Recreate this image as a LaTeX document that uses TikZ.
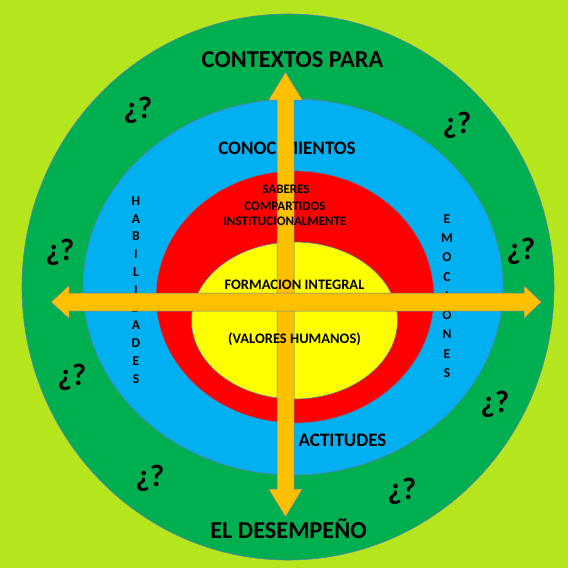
\documentclass[tikz,border=0pt]{standalone}
\usepackage{fontspec}
\setmainfont{Carlito}
\definecolor{bglime}{HTML}{B5E61D}
\definecolor{ringgreen}{HTML}{00B050}
\definecolor{ringblue}{HTML}{00B0F0}
\definecolor{ringred}{HTML}{FF0000}
\definecolor{ringyellow}{HTML}{FFFF00}
\definecolor{arroworange}{HTML}{FFC000}
\definecolor{edgeblue}{HTML}{5A7FA8}
\begin{document}
\begin{tikzpicture}[x=1pt,y=-1pt,
  ring/.style={draw=edgeblue,line width=0.6pt},
  arrowbody/.style={fill=arroworange,draw=edgeblue,line width=0.5pt,line join=miter},
  bigtxt/.style={font=\fontsize{24.3}{28}\selectfont\bfseries,inner sep=0pt,anchor=base},
  midtxt/.style={font=\fontsize{19}{22}\selectfont\bfseries,inner sep=0pt,anchor=base},
  smalltxt/.style={font=\fontsize{13}{15}\selectfont\bfseries,inner sep=0pt,anchor=base},
  coretxt/.style={font=\fontsize{14.5}{17}\selectfont\bfseries,inner sep=0pt,anchor=base},
  lettertxt/.style={font=\fontsize{13.5}{15}\selectfont\bfseries,inner sep=0pt},
  qtxt/.style={font=\fontsize{31}{34}\selectfont\bfseries,inner sep=0pt}]
\useasboundingbox (0,0) rectangle (568,568);
\fill[bglime] (0,0) rectangle (568,568);
% rings
\draw[ring,fill=ringgreen] (288,287) ellipse [x radius=266pt,y radius=273pt];
\draw[ring,fill=ringblue] (293,287) ellipse [x radius=210pt,y radius=188pt];
\draw[ring,fill=ringred] (295,297) ellipse [x radius=139pt,y radius=126pt];
\draw[ring,fill=ringyellow] (294.5,320.5) ellipse [x radius=103pt,y radius=78.5pt];
% texts under arrows
\node[midtxt] (conoc) at (287,154) {CONOCIMIENTOS};
\foreach \l [count=\i] in {H,A,B,I,L,I,D,A,D,E,S}
  \node[lettertxt] (hab\i) at (136,{201+17.8*(\i-1)}) {\l};
\foreach \l [count=\i] in {E,M,O,C,I,O,N,E,S}
  \node[lettertxt] (emo\i) at (447,{219+19.25*(\i-1)}) {\l};
% vertical arrow
\coordinate (vtop) at (285.5,72);
\coordinate (vbot) at (285.5,517);
\draw[arrowbody] (vtop) -- (302.5,100) -- (294,100) -- (294,489) -- (302.5,489)
  -- (vbot) -- (268.5,489) -- (277,489) -- (277,100) -- (268.5,100) -- cycle;
% horizontal arrow
\coordinate (hleft) at (51,302);
\coordinate (hright) at (541.5,302);
\draw[arrowbody] (hleft) -- (69,285.5) -- (69,293) -- (524,293) -- (524,285.5)
  -- (hright) -- (524,318.5) -- (524,311) -- (69,311) -- (69,318.5) -- cycle;
% texts over arrows
\node[bigtxt] (ctx) at (292.5,67) {CONTEXTOS PARA};
\node[bigtxt] (des) at (288.5,538) {EL DESEMPEÑO};
\node[smalltxt] (sab1) at (286,193.3) {SABERES};
\node[smalltxt] (sab2) at (285,210) {COMPARTIDOS};
\node[smalltxt] (sab3) at (285,225.7) {INSTITUCIONALMENTE};
\node[coretxt] (form) at (294.5,289.3) {FORMACION INTEGRAL};
\node[coretxt] (valo) at (294.5,343) {(VALORES HUMANOS)};
\node[font=\fontsize{19}{22}\selectfont\bfseries,inner sep=0pt,anchor=base] (acti) at (342.5,446.7) {ACTITUDES};
% question marks
\node[qtxt] (q1) at (138,110) {¿?};
\node[qtxt] (q2) at (457,125) {¿?};
\node[qtxt] (q3) at (60,252) {¿?};
\node[qtxt] (q4) at (521,251) {¿?};
\node[qtxt] (q5) at (72,377) {¿?};
\node[qtxt] (q6) at (495,404) {¿?};
\node[qtxt] (q7) at (150,478) {¿?};
\node[qtxt] (q8) at (402,491) {¿?};
\end{tikzpicture}
\end{document}
